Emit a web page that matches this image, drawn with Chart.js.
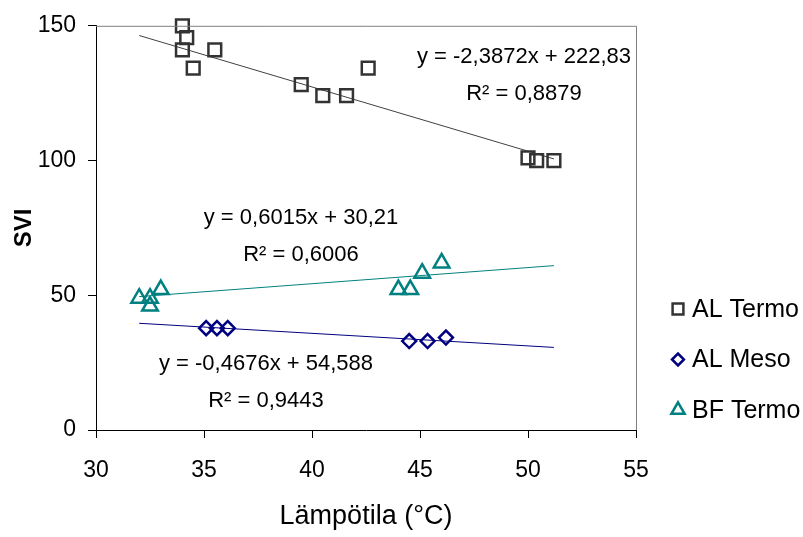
<!DOCTYPE html>
<html>
<head>
<meta charset="utf-8">
<script src="https://cdn.jsdelivr.net/npm/chart.js@4.4.0/dist/chart.umd.min.js"></script>
<style>
  html, body { margin: 0; padding: 0; background: #fff; }
</style>
</head>
<body>
<canvas id="chart" width="803" height="537"></canvas>
<script>
// Datos
const seriesNames = ['AL Termo', 'AL Meso', 'BF Termo'];

const alTermoX = [34.0, 34.2, 34.0, 34.5, 35.5, 39.5, 40.5, 41.6, 42.6, 50.0, 50.4, 51.2];
const alTermoY = [150, 145.6, 141.1, 134.3, 141.1, 128.2, 124.1, 124.1, 134.3, 101, 100, 100];

const alMesoX = [35.1, 35.6, 36.1, 44.5, 45.35, 46.2];
const alMesoY = [37.8, 37.8, 37.8, 33.0, 33.0, 34.3];

const bfTermoX = [32.0, 32.5, 32.5, 33.0, 44.0, 44.55, 45.1, 46.0];
const bfTermoY = [48.9, 48.9, 46.0, 52.1, 52.1, 52.1, 58.2, 62.0];

// Extremos de las líneas de tendencia
const trendX = [32, 51.2];
const trendAlTermoY = [146.4, 100.6];
const trendAlMesoY = [39.6, 30.65];
const trendBfTermoY = [49.5, 61.0];

const equations = [
    ['y = -2,3872x + 222,83', 'R² = 0,8879'],
    ['y = -0,4676x + 54,588', 'R² = 0,9443'],
    ['y = 0,6015x + 30,21', 'R² = 0,6006']
];

const xTicks = [30, 35, 40, 45, 50, 55];
const yTicks = [0, 50, 100, 150];

const colors = ['#333333', '#000080', '#008080'];
const FONT = "'Liberation Sans', Arial, sans-serif";

function toPoints(xs, ys) {
    return xs.map((x, i) => ({ x: x, y: ys[i] }));
}

// Texto de las ecuaciones (posiciones en píxeles)
const eqPos = [
    { x: 524, y1: 57, y2: 94 },
    { x: 266, y1: 364, y2: 401 },
    { x: 301, y1: 218, y2: 255 }
];

const extrasPlugin = {
    id: 'extras',
    afterDatasetsDraw(chart) {
        const ctx = chart.ctx;
        const a = chart.chartArea;
        ctx.save();
        // borde gris arriba y a la derecha
        ctx.strokeStyle = '#808080';
        ctx.lineWidth = 1;
        ctx.beginPath();
        ctx.moveTo(a.left, a.top + 0.5);
        ctx.lineTo(a.right + 0.5, a.top + 0.5);
        ctx.lineTo(a.right + 0.5, a.bottom);
        ctx.stroke();

        // ecuaciones
        ctx.fillStyle = '#000';
        ctx.font = '22px ' + FONT;
        ctx.textAlign = 'center';
        ctx.textBaseline = 'middle';
        equations.forEach((eq, i) => {
            ctx.fillText(eq[0], eqPos[i].x, eqPos[i].y1);
            ctx.fillText(eq[1], eqPos[i].x, eqPos[i].y2);
        });

        // leyenda
        ctx.font = '25px ' + FONT;
        ctx.textAlign = 'left';
        const styles = chart.data.datasets.slice(0, 3);
        styles.forEach((ds, i) => {
            const y = 309 + i * 50.5;
            ctx.strokeStyle = ds.borderColor;
            ctx.fillStyle = 'rgba(0,0,0,0)';
            ctx.lineWidth = 2.5;
            Chart.helpers.drawPoint(ctx, {
                pointStyle: ds.pointStyle,
                radius: ds.pointRadius * 0.85,
                borderWidth: 2.5,
                rotation: 0
            }, 678, y);
            ctx.fillStyle = '#000';
            ctx.fillText(ds.label, 692, y + 1);
        });
        ctx.restore();
    }
};

new Chart(document.getElementById('chart').getContext('2d'), {
    type: 'scatter',
    data: {
        datasets: [
            {
                label: seriesNames[0],
                data: toPoints(alTermoX, alTermoY),
                pointStyle: 'rect',
                pointRadius: 9,
                borderWidth: 2.5,
                borderColor: colors[0],
                backgroundColor: 'rgba(0,0,0,0)',
                clip: false
            },
            {
                label: seriesNames[1],
                data: toPoints(alMesoX, alMesoY),
                pointStyle: 'rectRot',
                pointRadius: 7,
                borderWidth: 2.5,
                borderColor: colors[1],
                backgroundColor: 'rgba(0,0,0,0)',
                clip: false
            },
            {
                label: seriesNames[2],
                data: toPoints(bfTermoX, bfTermoY),
                pointStyle: 'triangle',
                pointRadius: 9,
                borderWidth: 2.5,
                borderColor: colors[2],
                backgroundColor: 'rgba(0,0,0,0)',
                clip: false
            },
            {
                type: 'line',
                label: 'trend AL Termo',
                data: toPoints(trendX, trendAlTermoY),
                borderColor: '#404040',
                borderWidth: 1,
                pointRadius: 0
            },
            {
                type: 'line',
                label: 'trend AL Meso',
                data: toPoints(trendX, trendAlMesoY),
                borderColor: colors[1],
                borderWidth: 1,
                pointRadius: 0
            },
            {
                type: 'line',
                label: 'trend BF Termo',
                data: toPoints(trendX, trendBfTermoY),
                borderColor: colors[2],
                borderWidth: 1,
                pointRadius: 0
            }
        ]
    },
    options: {
        responsive: false,
        animation: false,
        layout: { padding: { left: 0, right: 167, top: 24, bottom: 0 } },
        plugins: {
            legend: { display: false },
            tooltip: { enabled: false }
        },
        scales: {
            x: {
                type: 'linear',
                min: 30,
                max: 55,
                afterBuildTicks: function(scale) {
                    scale.ticks = xTicks.map(v => ({ value: v }));
                },
                afterFit: function(scale) { scale.height = 107; },
                grid: { display: true, drawOnChartArea: false, drawTicks: true, tickLength: 8, color: '#000' },
                border: { display: true, color: '#000', width: 1 },
                ticks: { color: '#000', font: { family: FONT, size: 23 }, padding: 19, maxRotation: 0 },
                title: {
                    display: true,
                    text: 'Lämpötila (°C)',
                    color: '#000',
                    font: { family: FONT, size: 27 },
                    padding: { top: 0, bottom: 4 }
                }
            },
            y: {
                type: 'linear',
                min: 0,
                max: 150,
                afterBuildTicks: function(scale) {
                    scale.ticks = yTicks.map(v => ({ value: v }));
                },
                afterFit: function(scale) { scale.width = 96; },
                grid: { display: true, drawOnChartArea: false, drawTicks: true, tickLength: 8, color: '#000' },
                border: { display: true, color: '#000', width: 1 },
                ticks: { color: '#000', font: { family: FONT, size: 23 }, padding: 12 },
                title: {
                    display: true,
                    text: 'SVI',
                    color: '#000',
                    font: { family: FONT, size: 24, weight: 'bold' },
                    padding: { top: 10, bottom: 0 }
                }
            }
        }
    },
    plugins: [extrasPlugin]
});
</script>
</body>
</html>
